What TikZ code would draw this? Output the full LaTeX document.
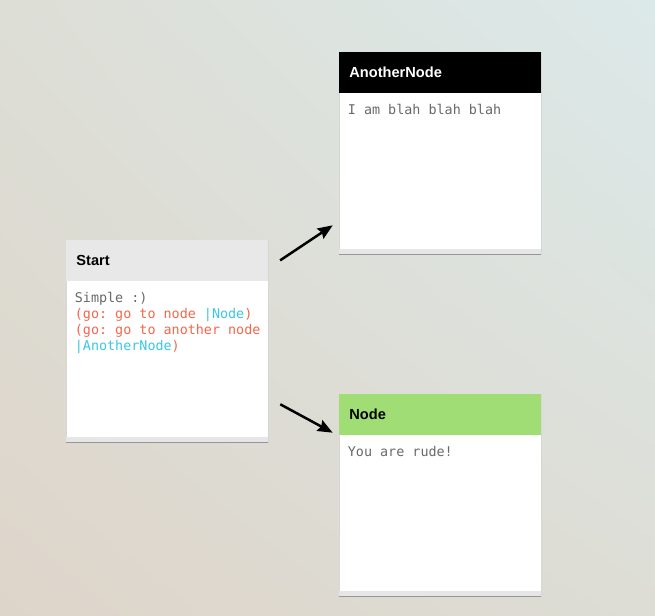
\documentclass[tikz,border=0pt]{standalone}
\usepackage{fontspec}
\setsansfont{Liberation Sans}
\setmonofont{DejaVu Sans Mono}
\usetikzlibrary{arrows.meta,positioning,shadings,calc}
\definecolor{bgtl}{RGB}{221,222,214}
\definecolor{bgtr}{RGB}{220,233,233}
\definecolor{bgbl}{RGB}{222,213,202}
\definecolor{bgbr}{RGB}{221,221,213}
\definecolor{cardline}{RGB}{214,214,214}
\definecolor{footgrey}{RGB}{230,230,230}
\definecolor{shadowgrey}{RGB}{150,150,150}
\definecolor{startgrey}{RGB}{232,232,232}
\definecolor{nodegreen}{RGB}{161,221,117}
\definecolor{bodygrey}{RGB}{105,105,105}
\definecolor{gored}{RGB}{245,102,76}
\definecolor{gocyan}{RGB}{58,200,228}
\begin{document}
\begin{tikzpicture}[x=1pt,y=-1pt]
        \frenchspacing
        \tikzstyle{card} = [rectangle,draw=cardline,fill=white,line width=0.6pt,minimum width=202pt,minimum height=202pt,inner sep=0pt]
        \tikzstyle{head} = [rectangle,anchor=north west,minimum height=41pt,text width=181pt,inner xsep=10.5pt,inner ysep=0pt,align=left,font=\sffamily\bfseries\fontsize{14.6}{16}\selectfont]
        \tikzstyle{body} = [anchor=north west,inner xsep=9pt,inner ysep=0pt,align=left,text=bodygrey,font=\ttfamily\fontsize{13.4}{16}\selectfont]
        \tikzstyle{foot} = [rectangle,anchor=south west,fill=footgrey,minimum width=202pt,minimum height=5pt,inner sep=0pt]
        \tikzstyle{link} = [-{Stealth[length=15pt,width=12pt,inset=2pt]},line width=2.5pt]

        % background
        \shade[upper left=bgtl,upper right=bgtr,lower left=bgbl,lower right=bgbr] (0,0) rectangle (655,615);
        \useasboundingbox (0,0) rectangle (655,615);

        % start
        \node[card] (startbox) at (167,341) {};
        \node[head,fill=startgrey] (starthead) at (startbox.north west) {Start};
        \node[body] (starttext) at ($(starthead.south west)+(0,11)$) {Simple :)\\
          \textcolor{gored}{(go: go to node }\textcolor{gocyan}{|Node}\textcolor{gored}{)}\\
          \textcolor{gored}{(go: go to another node}\\
          \textcolor{gocyan}{|AnotherNode}\textcolor{gored}{)}};
        \node[foot] (startfoot) at (startbox.south west) {};
        \draw[shadowgrey,line width=1pt] (startfoot.south west) -- (startfoot.south east);

        % another node
        \node[card] (anotherbox) at (440,153) {};
        \node[head,fill=black,text=white] (anotherhead) at (anotherbox.north west) {AnotherNode};
        \node[body] (anothertext) at ($(anotherhead.south west)+(0,11)$) {I am blah blah blah};
        \node[foot] (anotherfoot) at (anotherbox.south west) {};
        \draw[shadowgrey,line width=1pt] (anotherfoot.south west) -- (anotherfoot.south east);

        % node
        \node[card] (nodebox) at (440,495) {};
        \node[head,fill=nodegreen] (nodehead) at (nodebox.north west) {Node};
        \node[body] (nodetext) at ($(nodehead.south west)+(0,11)$) {You are rude!};
        \node[foot] (nodefoot) at (nodebox.south west) {};
        \draw[shadowgrey,line width=1pt] (nodefoot.south west) -- (nodefoot.south east);

        % links between cards
        \coordinate[right=12pt of starthead.east] (s1);
        \coordinate[right=12pt of startbox.south east,yshift=38pt] (s2);
        \coordinate[left=6pt of anotherbox.south west,yshift=29pt] (a1);
        \coordinate[left=6pt of nodebox.north west,yshift=-39pt] (n1);
        \draw[link] (s1) -- (a1);
        \draw[link] (s2) -- (n1);
\end{tikzpicture}
\end{document}
